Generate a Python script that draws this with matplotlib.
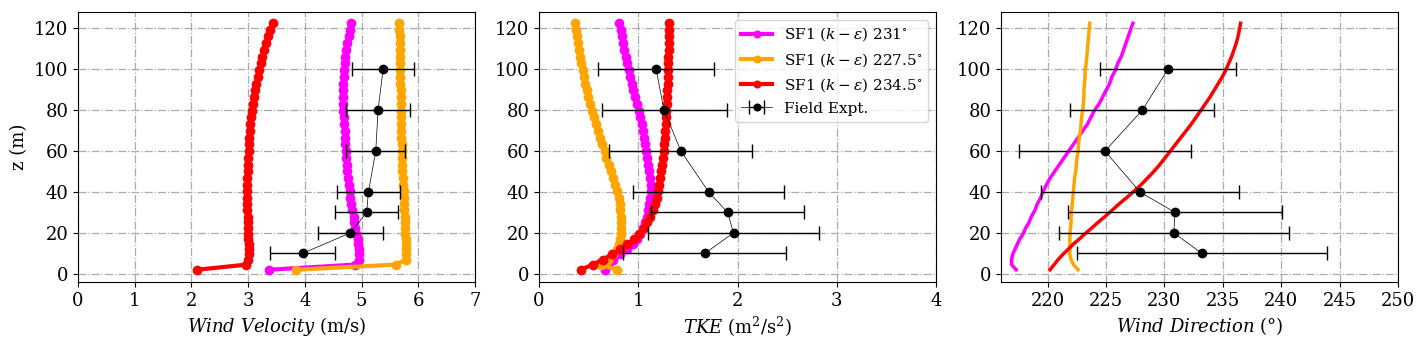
import matplotlib
matplotlib.use("Agg")
import matplotlib.pyplot as plt

plt.rcParams['font.family'] = 'DejaVu Serif'
plt.rcParams['mathtext.fontset'] = 'dejavuserif'

z = [2.0, 4.5, 7.0, 9.5, 12.0, 14.5, 17.0, 19.6, 22.3, 25.1, 28.0, 31.0, 34.1, 37.2,
     40.4, 43.6, 46.8, 50.1, 53.4, 56.7, 60.0, 63.3, 66.6, 69.9, 73.2, 76.5, 79.8,
     83.1, 86.4, 89.7, 93.0, 96.3, 99.6, 102.9, 106.2, 109.5, 112.8, 116.1, 119.4, 122.5]

vel_231 = [3.37, 4.88, 4.96, 4.96, 4.95, 4.94, 4.93, 4.91, 4.89, 4.87, 4.86, 4.84, 4.82, 4.80,
           4.79, 4.77, 4.76, 4.75, 4.74, 4.73, 4.72, 4.71, 4.70, 4.70, 4.69, 4.69, 4.68,
           4.68, 4.68, 4.68, 4.68, 4.69, 4.69, 4.70, 4.71, 4.73, 4.75, 4.77, 4.79, 4.82]
vel_2275 = [3.85, 5.60, 5.78, 5.79, 5.79, 5.78, 5.78, 5.77, 5.77, 5.76, 5.76, 5.75, 5.75, 5.74,
            5.74, 5.73, 5.73, 5.72, 5.72, 5.71, 5.71, 5.71, 5.70, 5.70, 5.70, 5.70, 5.69,
            5.69, 5.69, 5.69, 5.68, 5.68, 5.68, 5.68, 5.67, 5.67, 5.67, 5.67, 5.66, 5.66]
vel_2345 = [2.10, 2.97, 3.00, 3.01, 3.01, 3.01, 3.00, 3.00, 2.99, 2.99, 2.99, 2.98, 2.98, 2.98,
            2.98, 2.98, 2.98, 2.99, 2.99, 3.00, 3.01, 3.02, 3.02, 3.03, 3.04, 3.05, 3.06,
            3.08, 3.10, 3.12, 3.14, 3.17, 3.19, 3.22, 3.25, 3.28, 3.31, 3.35, 3.39, 3.44]

tke_231 = [0.67, 0.70, 0.75, 0.82, 0.89, 0.95, 0.99, 1.02, 1.05, 1.07, 1.09, 1.10, 1.11, 1.12,
           1.125, 1.125, 1.12, 1.11, 1.10, 1.09, 1.08, 1.07, 1.06, 1.05, 1.04, 1.02, 1.01,
           0.99, 0.97, 0.95, 0.94, 0.92, 0.91, 0.89, 0.88, 0.86, 0.85, 0.84, 0.83, 0.81]
tke_2275 = [0.79, 0.62, 0.70, 0.75, 0.79, 0.81, 0.82, 0.83, 0.83, 0.83, 0.83, 0.82, 0.82, 0.81,
            0.79, 0.77, 0.75, 0.73, 0.71, 0.68, 0.66, 0.63, 0.61, 0.59, 0.57, 0.55, 0.53,
            0.51, 0.49, 0.48, 0.46, 0.45, 0.44, 0.42, 0.41, 0.40, 0.39, 0.38, 0.37, 0.36]
tke_2345 = [0.42, 0.54, 0.64, 0.74, 0.82, 0.89, 0.96, 1.01, 1.06, 1.09, 1.12, 1.15, 1.17, 1.19,
            1.20, 1.21, 1.22, 1.23, 1.24, 1.25, 1.26, 1.26, 1.27, 1.27, 1.28, 1.28, 1.28,
            1.29, 1.29, 1.29, 1.30, 1.30, 1.30, 1.30, 1.30, 1.31, 1.31, 1.31, 1.31, 1.31]

dir_231 = [217.3, 216.9, 216.9, 217.0, 217.2, 217.4, 217.6, 217.9, 218.1, 218.4, 218.6, 218.9,
           219.1, 219.4, 219.6, 219.9, 220.2, 220.6, 221.0, 221.4, 221.8, 222.2, 222.6, 223.0,
           223.4, 223.7, 224.0, 224.4, 224.7, 225.0, 225.3, 225.5, 225.8, 226.0, 226.3, 226.5,
           226.7, 226.9, 227.1, 227.3]
dir_2275 = [222.6, 222.2, 222.0, 221.9, 221.9, 221.9, 221.9, 221.9, 221.95, 222.0, 222.0, 222.05,
            222.1, 222.15, 222.2, 222.25, 222.3, 222.4, 222.45, 222.5, 222.6, 222.65, 222.7, 222.8,
            222.85, 222.9, 223.0, 223.05, 223.1, 223.1, 223.15, 223.2, 223.2, 223.3, 223.35, 223.4,
            223.45, 223.5, 223.55, 223.6]
dir_2345 = [220.2, 220.55, 220.9, 221.3, 221.75, 222.2, 222.7, 223.2, 223.75, 224.3, 224.9, 225.5,
            226.1, 226.75, 227.4, 228.0, 228.55, 229.1, 229.6, 230.05, 230.5, 230.95, 231.4, 231.85,
            232.3, 232.7, 233.1, 233.5, 233.9, 234.25, 234.6, 234.95, 235.25, 235.5, 235.75, 235.95,
            236.15, 236.3, 236.42, 236.52]

z_exp = [10, 20, 30, 40, 60, 80, 100]
vel_exp = [3.96, 4.80, 5.09, 5.12, 5.25, 5.29, 5.38]
vel_err = [0.58, 0.57, 0.56, 0.55, 0.52, 0.56, 0.54]
tke_exp = [1.67, 1.96, 1.90, 1.71, 1.43, 1.26, 1.18]
tke_err = [0.82, 0.86, 0.77, 0.76, 0.72, 0.63, 0.585]
dir_exp = [233.2, 230.8, 230.9, 227.9, 224.9, 228.1, 230.3]
dir_err = [10.7, 9.85, 9.15, 8.5, 7.35, 6.15, 5.8]

labels = [r'SF1 $(k-\varepsilon)$ 231$^{\circ}$',
          r'SF1 $(k-\varepsilon)$ 227.5$^{\circ}$',
          r'SF1 $(k-\varepsilon)$ 234.5$^{\circ}$',
          'Field Expt.']
colors = ['magenta', 'orange', 'red']

fig = plt.figure(figsize=(14.25, 3.42), dpi=100)
W, H = 1425, 342
axes = []
for left in [78, 539, 1001]:
    axes.append(fig.add_axes([left / W, (H - 282) / H, 397 / W, 270 / H]))

fs = 13

def style(ax):
    ax.grid(True, linestyle='-.', color='#aaaaaa', linewidth=0.9)
    ax.set_axisbelow(True)
    ax.tick_params(labelsize=fs)
    ax.set_yticks([0, 20, 40, 60, 80, 100, 120])

ax = axes[0]
for vals, c, lab in zip([vel_231, vel_2275, vel_2345], colors, labels):
    ax.plot(vals, z, '-o', color=c, lw=3, ms=6, label=lab)
ax.errorbar(vel_exp, z_exp, xerr=vel_err, fmt='-o', color='black', lw=0.5, ms=6,
            elinewidth=1.0, capsize=5, label=labels[3])
ax.set_xlim(0, 7)
ax.set_xticks(range(0, 8))
ax.set_xlabel(r'$Wind\ Velocity$ (m/s)', fontsize=fs)
ax.set_ylabel('z (m)', fontsize=fs)
style(ax)

ax = axes[1]
for vals, c, lab in zip([tke_231, tke_2275, tke_2345], colors, labels):
    ax.plot(vals, z, '-o', color=c, lw=3, ms=6, label=lab)
ax.errorbar(tke_exp, z_exp, xerr=tke_err, fmt='-o', color='black', lw=0.5, ms=6,
            elinewidth=1.0, capsize=5, label=labels[3])
ax.set_xlim(0, 4)
ax.set_xticks(range(0, 5))
ax.set_xlabel(r'$TKE$ (m$^2$/s$^2$)', fontsize=fs)
style(ax)
ax.legend(loc='upper right', fontsize=11, markerscale=0.8)

ax = axes[2]
for vals, c, lab in zip([dir_231, dir_2275, dir_2345], colors, labels):
    ax.plot(vals, z, '-', color=c, lw=2.5, label=lab)
ax.errorbar(dir_exp, z_exp, xerr=dir_err, fmt='-o', color='black', lw=0.5, ms=6,
            elinewidth=1.0, capsize=5, label=labels[3])
ax.set_xlim(216, 250)
ax.set_xticks(range(220, 251, 5))
ax.set_xlabel(r'$Wind\ Direction$ ($\degree$)', fontsize=fs)
style(ax)

for ax in axes:
    ax.set_ylim(-4, 128)

fig.savefig('out.png', dpi=100)
